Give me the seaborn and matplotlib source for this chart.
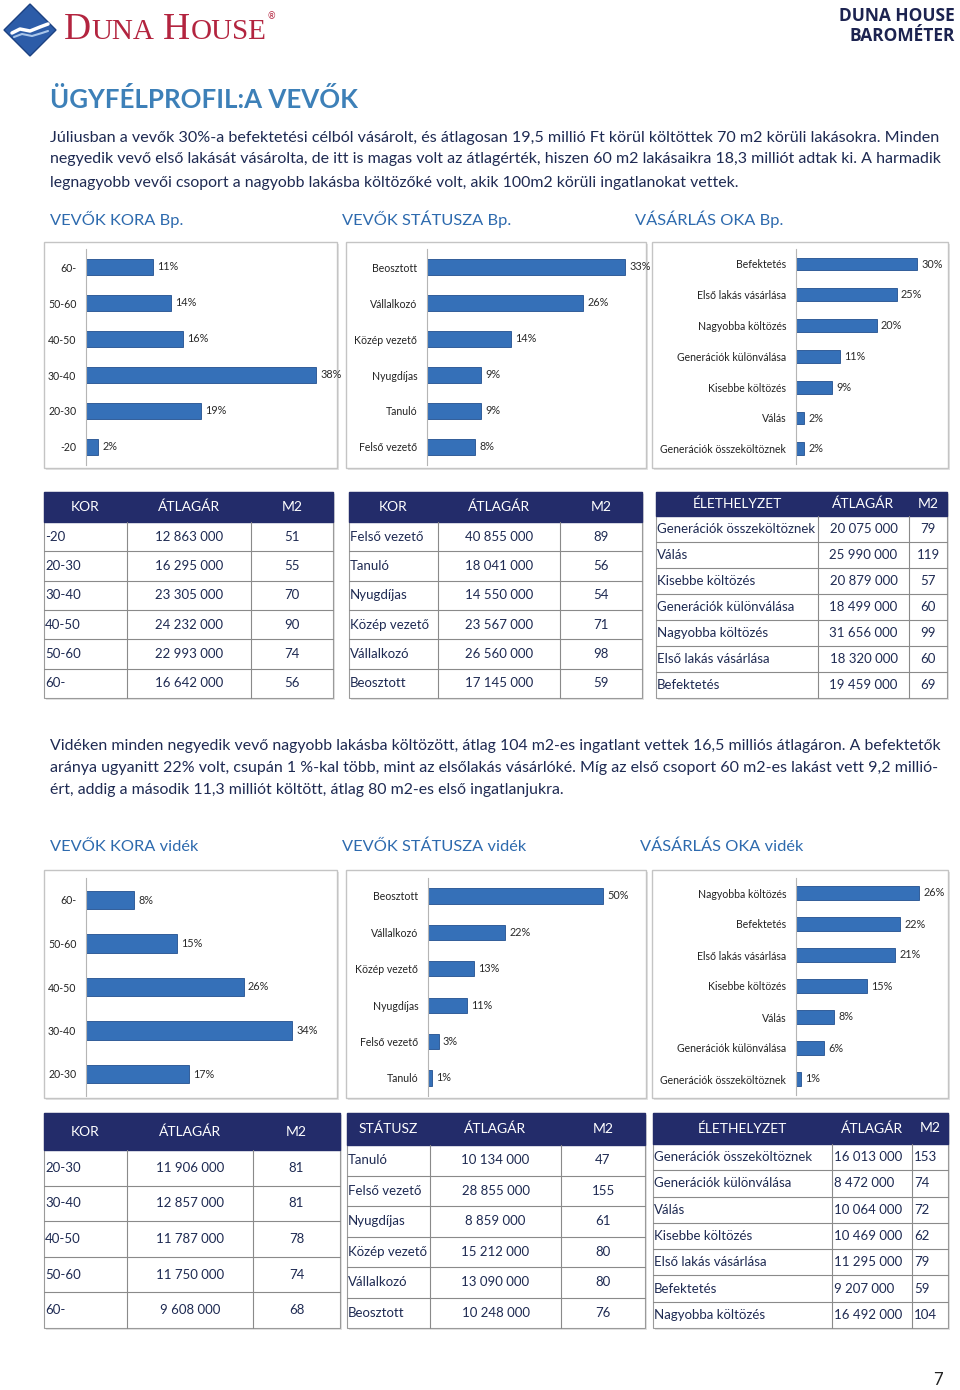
"""
plot.py
Duna House barométer - ügyfélprofil oldal (vevők)
"""
import matplotlib
matplotlib.use('Agg')
import pandas as pd
import matplotlib.pyplot as plt
import seaborn as sns
from matplotlib.patches import Rectangle, Polygon

# DATA =================================

bp_kor = ['60-', '50-60', '40-50', '30-40', '20-30', '-20']
bp_kor_pct = [11, 14, 16, 38, 19, 2]
bp_status = ['Beosztott', 'Vállalkozó', 'Közép vezető', 'Nyugdíjas', 'Tanuló', 'Felső vezető']
bp_status_pct = [33, 26, 14, 9, 9, 8]
bp_ok = ['Befektetés', 'Első lakás vásárlása', 'Nagyobba költözés', 'Generációk különválása',
         'Kisebbe költözés', 'Válás', 'Generációk összeköltöznek']
bp_ok_pct = [30, 25, 20, 11, 9, 2, 2]

vid_kor = ['60-', '50-60', '40-50', '30-40', '20-30']
vid_kor_pct = [8, 15, 26, 34, 17]
vid_status = ['Beosztott', 'Vállalkozó', 'Közép vezető', 'Nyugdíjas', 'Felső vezető', 'Tanuló']
vid_status_pct = [50, 22, 13, 11, 3, 1]
vid_ok = ['Nagyobba költözés', 'Befektetés', 'Első lakás vásárlása', 'Kisebbe költözés',
          'Válás', 'Generációk különválása', 'Generációk összeköltöznek']
vid_ok_pct = [26, 22, 21, 15, 8, 6, 1]

bp_t1_rows = ['-20', '20-30', '30-40', '40-50', '50-60', '60-']
bp_t1_price = ['12 863 000', '16 295 000', '23 305 000', '24 232 000', '22 993 000', '16 642 000']
bp_t1_m2 = [51, 55, 70, 90, 74, 56]
bp_t2_rows = ['Felső vezető', 'Tanuló', 'Nyugdíjas', 'Közép vezető', 'Vállalkozó', 'Beosztott']
bp_t2_price = ['40 855 000', '18 041 000', '14 550 000', '23 567 000', '26 560 000', '17 145 000']
bp_t2_m2 = [89, 56, 54, 71, 98, 59]
bp_t3_rows = ['Generációk összeköltöznek', 'Válás', 'Kisebbe költözés', 'Generációk különválása',
              'Nagyobba költözés', 'Első lakás vásárlása', 'Befektetés']
bp_t3_price = ['20 075 000', '25 990 000', '20 879 000', '18 499 000', '31 656 000', '18 320 000', '19 459 000']
bp_t3_m2 = [79, 119, 57, 60, 99, 60, 69]

vid_t1_rows = ['20-30', '30-40', '40-50', '50-60', '60-']
vid_t1_price = ['11 906 000', '12 857 000', '11 787 000', '11 750 000', '9 608 000']
vid_t1_m2 = [81, 81, 78, 74, 68]
vid_t2_rows = ['Tanuló', 'Felső vezető', 'Nyugdíjas', 'Közép vezető', 'Vállalkozó', 'Beosztott']
vid_t2_price = ['10 134 000', '28 855 000', '8 859 000', '15 212 000', '13 090 000', '10 248 000']
vid_t2_m2 = [47, 155, 61, 80, 80, 76]
vid_t3_rows = ['Generációk összeköltöznek', 'Generációk különválása', 'Válás', 'Kisebbe költözés',
               'Első lakás vásárlása', 'Befektetés', 'Nagyobba költözés']
vid_t3_price = ['16 013 000', '8 472 000', '10 064 000', '10 469 000', '11 295 000', '9 207 000', '16 492 000']
vid_t3_m2 = [153, 74, 72, 62, 79, 59, 104]

para1 = ['Júliusban a vevők 30%-a befektetési célból vásárolt, és átlagosan 19,5 millió Ft körül költöttek 70 m2 körüli lakásokra. Minden',
         'negyedik vevő első lakását vásárolta, de itt is magas volt az átlagérték, hiszen 60 m2 lakásaikra 18,3 milliót adtak ki. A harmadik',
         'legnagyobb vevői csoport a nagyobb lakásba költözőké volt, akik 100m2 körüli ingatlanokat vettek.']
para2 = ['Vidéken minden negyedik vevő nagyobb lakásba költözött, átlag 104 m2-es ingatlant vettek 16,5 milliós átlagáron. A befektetők',
         'aránya ugyanitt 22% volt, csupán 1 %-kal több, mint az elsőlakás vásárlóké. Míg az első csoport 60 m2-es lakást vett 9,2 millió-',
         'ért, addig a második 11,3 milliót költött, átlag 80 m2-es első ingatlanjukra.']

# STYLE ================================

W, H = 960, 1390
NAVY = '#232c6a'
TXT = '#1e2a52'
BLUE = '#2d6aae'
BAR = '#3570b8'

sns.set_theme(style='white')
plt.rcParams['font.family'] = ['Lato', 'DejaVu Sans']

fig = plt.figure(figsize=(W / 100, H / 100), dpi=100)
bg = fig.add_axes([0, 0, 1, 1])
bg.set_xlim(0, W)
bg.set_ylim(H, 0)
bg.axis('off')
renderer = fig.canvas.get_renderer()


def fit_text(x, y, s, width, size, **kw):
    """Text scaled to a given pixel width"""
    t = bg.text(x, y, s, fontsize=size, va='center', ha='left', **kw)
    bb = t.get_window_extent(renderer)
    t.set_fontsize(size * width / bb.width)
    return t


def bar_chart(cats, vals, axis_x, right, top_c, step, ppp):
    """Horizontal bar chart inside a px box"""
    n = len(cats)
    top = top_c - step / 2
    hgt = n * step
    ax = fig.add_axes([axis_x / W, 1 - (top + hgt) / H, (right - axis_x) / W, hgt / H])
    ax.set_facecolor('none')
    df = pd.DataFrame({'cat': cats, 'val': vals})
    sns.barplot(data=df, y='cat', x='val', orient='h', color=BAR, saturation=1,
                width=0.42, edgecolor='#22508f', linewidth=0.6, ax=ax)
    ax.set_xlim(0, (right - axis_x) / ppp)
    ax.set_ylim(n - 0.5, -0.5)
    for c in ax.containers:
        ax.bar_label(c, labels=[f'{v}%' for v in vals], padding=3, fontsize=7.8, color='#2a2a2a')
    ax.set_xlabel('')
    ax.set_ylabel('')
    ax.set_xticks([])
    ax.tick_params(axis='y', length=0, pad=7, labelsize=7.6, labelcolor='#222222')
    for s in ['top', 'right', 'bottom']:
        ax.spines[s].set_visible(False)
    ax.spines['left'].set_color('#b5b5b5')
    ax.spines['left'].set_linewidth(0.8)
    return ax


def box(x, y, w, h):
    bg.add_patch(Rectangle((x + 2, y + 2), w, h, facecolor='#e4e4e4', edgecolor='none', zorder=0))
    bg.add_patch(Rectangle((x, y), w, h, facecolor='white', edgecolor='#c4c4c4', lw=1, zorder=1))


def table(cols, y0, head_h, bottom, headers, rows, price, m2, left_num=False, fs=9.5):
    """Simple table drawn in px"""
    n = len(rows)
    row_h = (bottom - y0 - head_h) / n
    x0, x1 = cols[0], cols[-1]
    bg.add_patch(Rectangle((x0 + 2, y0 + 2), x1 - x0, bottom - y0, facecolor='#e2e2e2',
                           edgecolor='none', zorder=0))
    bg.add_patch(Rectangle((x0, y0), x1 - x0, bottom - y0, facecolor='white',
                           edgecolor='#9a9a9a', lw=0.8, zorder=1))
    bg.add_patch(Rectangle((x0, y0), x1 - x0, head_h, facecolor=NAVY, edgecolor=NAVY, zorder=2))
    for i, hd in enumerate(headers):
        bg.text((cols[i] + cols[i + 1]) / 2, y0 + head_h / 2, hd, color='white',
                fontsize=fs + 0.5, ha='center', va='center', zorder=3)
    for c in cols[1:-1]:
        bg.plot([c, c], [y0 + head_h, bottom], color='#8a8a8a', lw=0.8, zorder=2)
    for r in range(n):
        yt = y0 + head_h + r * row_h
        if r > 0:
            bg.plot([x0, x1], [yt, yt], color='#8a8a8a', lw=0.8, zorder=2)
        yc = yt + row_h / 2
        bg.text(x0 + 1, yc, rows[r], color=TXT, fontsize=fs, ha='left', va='center', zorder=3)
        vals = [price[r], str(m2[r])]
        for j, v in enumerate(vals):
            if left_num:
                bg.text(cols[j + 1] + 2, yc, v, color=TXT, fontsize=fs, ha='left', va='center', zorder=3)
            else:
                bg.text((cols[j + 1] + cols[j + 2]) / 2, yc, v, color=TXT, fontsize=fs,
                        ha='center', va='center', zorder=3)


# HEADER ===============================

bg.add_patch(Polygon([(30, 4), (56, 30), (30, 56), (4, 30)], closed=True,
                     facecolor='#2c5ca8', edgecolor='#1d4282', lw=1))
bg.plot([12, 20, 30, 40, 48], [33, 29, 31, 27, 24], color='white', lw=2.5, solid_capstyle='round')
bg.plot([14, 22, 32, 42, 48], [37, 34, 36, 33, 31], color='#a9c6ea', lw=1.5, solid_capstyle='round')
x = 64
for s, size in [('D', 27), ('UNA', 21), (' ', 21), ('H', 27), ('OUSE', 21)]:
    t = bg.text(x, 39, s, fontsize=size, color='#b3243f', family='Liberation Serif',
                ha='left', va='baseline')
    x = t.get_window_extent(renderer).x1 + 0.5
bg.text(x + 1, 17, '®', fontsize=6.5, color='#b3243f', ha='left', va='center')

bg.text(955, 16, 'DUNA HOUSE', fontsize=12.5, fontweight='bold', color='#1c2350',
        ha='right', va='center', family='Open Sans')
bg.text(955, 36, 'BAROMÉTER', fontsize=12.5, fontweight='bold', color='#1c2350',
        ha='right', va='center', family='Open Sans')

fit_text(50, 100, 'ÜGYFÉLPROFIL:A VEVŐK', 307, 17, color='#3d80b8', fontweight='bold')

for i, line in enumerate(para1):
    if i < len(para1) - 1:
        fit_text(50, 138 + i * 21.5, line, 893, 11.5, color=TXT)
    else:
        bg.text(50, 138 + i * 21.5 + 1.5, line, fontsize=11.4, color=TXT, ha='left', va='center')

for x, s in [(50, 'VEVŐK KORA Bp.'), (342, 'VEVŐK STÁTUSZA Bp.'), (635, 'VÁSÁRLÁS OKA Bp.')]:
    bg.text(x, 219, s, fontsize=11.8, color=BLUE, ha='left', va='center')

# BUDAPEST CHARTS ======================

box(44, 242, 293, 226)
box(346, 242, 300, 226)
box(652, 242, 296, 226)
bar_chart(bp_kor, bp_kor_pct, 86, 337, 267, 36, 6.05)
bar_chart(bp_status, bp_status_pct, 427, 645, 267, 36, 6.0)
bar_chart(bp_ok, bp_ok_pct, 796, 948, 264, 30.8, 4.03)

# BUDAPEST TABLES ======================

table([44, 127, 251, 333], 492, 30, 698, ['KOR', 'ÁTLAGÁR', 'M2'], bp_t1_rows, bp_t1_price, bp_t1_m2)
table([349, 438, 560, 642], 492, 30, 698, ['KOR', 'ÁTLAGÁR', 'M2'], bp_t2_rows, bp_t2_price, bp_t2_m2)
table([656, 818, 909, 947], 492, 24, 698, ['ÉLETHELYZET', 'ÁTLAGÁR', 'M2'], bp_t3_rows, bp_t3_price, bp_t3_m2)

for i, line in enumerate(para2):
    if i < len(para2) - 1:
        fit_text(50, 746 + i * 22, line, 893, 11.5, color=TXT)
    else:
        bg.text(50, 746 + i * 22, line, fontsize=11.4, color=TXT, ha='left', va='center')

for x, s in [(50, 'VEVŐK KORA vidék'), (342, 'VEVŐK STÁTUSZA vidék'), (640, 'VÁSÁRLÁS OKA vidék')]:
    bg.text(x, 847, s, fontsize=11.8, color=BLUE, ha='left', va='center')

# VIDÉK CHARTS =========================

box(44, 870, 293, 228)
box(346, 870, 300, 228)
box(652, 870, 296, 228)
bar_chart(vid_kor, vid_kor_pct, 86, 337, 900, 43.5, 6.06)
bar_chart(vid_status, vid_status_pct, 428, 645, 896, 36.4, 3.5)
bar_chart(vid_ok, vid_ok_pct, 796, 948, 893, 31, 4.73)

# VIDÉK TABLES =========================

table([44, 127, 253, 340], 1113, 37, 1328, ['KOR', 'ÁTLAGÁR', 'M2'], vid_t1_rows, vid_t1_price, vid_t1_m2)
table([347, 430, 561, 645], 1113, 32, 1328, ['STÁTUSZ', 'ÁTLAGÁR', 'M2'], vid_t2_rows, vid_t2_price, vid_t2_m2)
table([653, 832, 912, 948], 1113, 31, 1328, ['ÉLETHELYZET', 'ÁTLAGÁR', 'M2'], vid_t3_rows, vid_t3_price,
      vid_t3_m2, left_num=True)

bg.text(938, 1380, '7', fontsize=12, color='#222222', ha='center', va='center')

fig.savefig('out.png', dpi=100)
